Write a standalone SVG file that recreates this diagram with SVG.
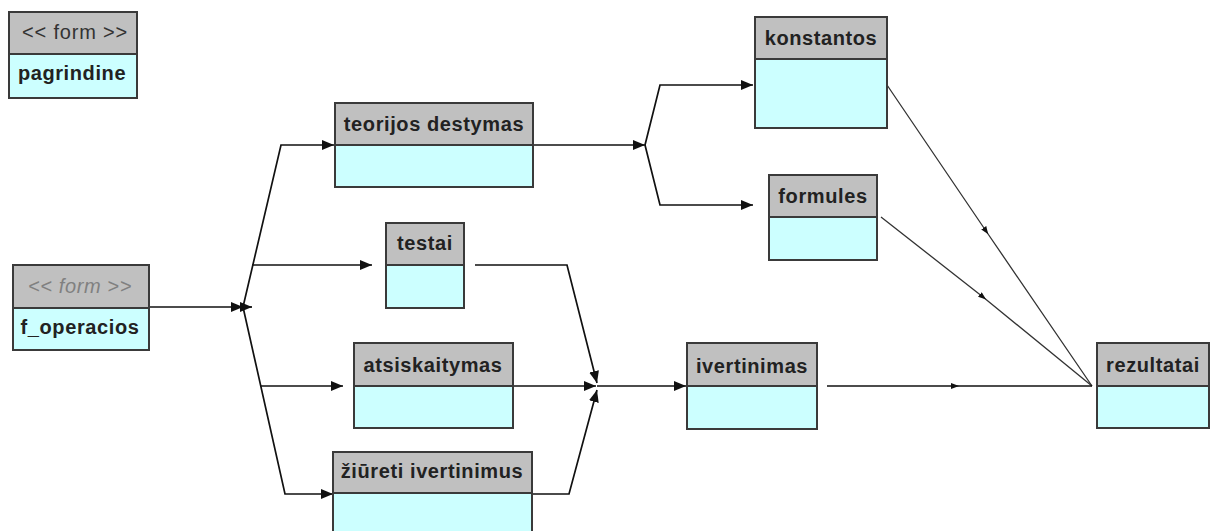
<svg xmlns="http://www.w3.org/2000/svg" width="1216" height="531" viewBox="0 0 1216 531">
  <style>
    .hdr { fill: #c0c0c0; stroke: #3a3a3a; stroke-width: 2; }
    .body { fill: #ccffff; stroke: #3a3a3a; stroke-width: 2; }
    .lbl { font-family: "Liberation Sans", Arial, sans-serif; font-size: 20px; font-weight: bold; letter-spacing: 0.6px; fill: #222; text-anchor: middle; }
    .stereo { font-family: "Liberation Sans", Arial, sans-serif; font-size: 20px; letter-spacing: 0.8px; fill: #333; text-anchor: middle; }
    .stereo-i { font-family: "Liberation Sans", Arial, sans-serif; font-size: 20px; letter-spacing: 0.6px; font-style: italic; fill: #808080; text-anchor: middle; }
    .edge { fill: none; stroke: #111; stroke-width: 1.7; }
    .thin { fill: none; stroke: #333; stroke-width: 1.3; }
  </style>
  <defs>
    <marker id="arrow" markerUnits="userSpaceOnUse" markerWidth="12" markerHeight="10" refX="12" refY="5" orient="auto">
      <path d="M0,0 L12,5 L0,10 Z" fill="#111"/>
    </marker>
    <marker id="tick" markerUnits="userSpaceOnUse" markerWidth="8" markerHeight="6" refX="4" refY="3" orient="auto">
      <path d="M0,0 L8,3 L0,6 Z" fill="#111"/>
    </marker>
  </defs>

  <rect width="1216" height="531" fill="#ffffff"/>

  <!-- connectors -->
  <g id="connectors">
    <!-- f_operacios into the fork -->
    <path class="edge" d="M149,307 L243,307" marker-end="url(#arrow)"/>
    <path class="edge" d="M243,307 L252,307" marker-end="url(#arrow)"/>
    <!-- fork branches -->
    <path class="edge" d="M243,307 L281,145 L334,145" marker-end="url(#arrow)"/>
    <path class="edge" d="M243,307 L285,494 L333,494" marker-end="url(#arrow)"/>
    <path class="edge" d="M252,265 L372,265" marker-end="url(#arrow)"/>
    <path class="edge" d="M261,386 L343,386" marker-end="url(#arrow)"/>
    <!-- teorijos destymas to konstantos / formules -->
    <path class="edge" d="M523,145 L645,145" marker-end="url(#arrow)"/>
    <path class="edge" d="M645,145 L660,85 L753,85" marker-end="url(#arrow)"/>
    <path class="edge" d="M645,145 L660,205 L753,205" marker-end="url(#arrow)"/>
    <!-- into ivertinimas -->
    <path class="edge" d="M475,265 L567,265 L597,383" marker-end="url(#arrow)"/>
    <path class="edge" d="M505,386 L596,386" marker-end="url(#arrow)"/>
    <path class="edge" d="M523,494 L569,494 L597,390" marker-end="url(#arrow)"/>
    <path class="edge" d="M597,386 L686,386" marker-end="url(#arrow)"/>
    <!-- into rezultatai -->
    <path class="thin" d="M887,85 L986,231 L1092,386" marker-mid="url(#tick)"/>
    <path class="thin" d="M881,217 L983,297 L1092,386" marker-mid="url(#tick)"/>
    <path class="edge" d="M827,386 L955,386 L1092,386" marker-mid="url(#tick)"/>
  </g>

  <!-- nodes -->
  <g id="pagrindine">
    <rect class="hdr" x="9" y="12" width="128" height="42"/>
    <rect class="body" x="9" y="54" width="128" height="44"/>
    <text class="stereo" x="75" y="39">&lt;&lt; form &gt;&gt;</text>
    <text class="lbl" x="72" y="80">pagrindine</text>
  </g>

  <g id="f_operacios">
    <rect class="hdr" x="13" y="265" width="136" height="43"/>
    <rect class="body" x="13" y="308" width="136" height="42"/>
    <text class="stereo-i" x="80" y="293">&lt;&lt; form &gt;&gt;</text>
    <text class="lbl" x="80" y="334">f_operacios</text>
  </g>

  <g id="teorijos-destymas">
    <rect class="hdr" x="335" y="103" width="198" height="42"/>
    <rect class="body" x="335" y="145" width="198" height="42"/>
    <text class="lbl" x="434" y="131">teorijos destymas</text>
  </g>

  <g id="konstantos">
    <rect class="hdr" x="755" y="17" width="132" height="42"/>
    <rect class="body" x="755" y="59" width="132" height="69"/>
    <text class="lbl" x="821" y="45">konstantos</text>
  </g>

  <g id="formules">
    <rect class="hdr" x="769" y="175" width="108" height="42"/>
    <rect class="body" x="769" y="217" width="108" height="43"/>
    <text class="lbl" x="823" y="203">formules</text>
  </g>

  <g id="testai">
    <rect class="hdr" x="386" y="223" width="78" height="42"/>
    <rect class="body" x="386" y="265" width="78" height="43"/>
    <text class="lbl" x="425" y="250">testai</text>
  </g>

  <g id="atsiskaitymas">
    <rect class="hdr" x="354" y="343" width="159" height="43"/>
    <rect class="body" x="354" y="386" width="159" height="42"/>
    <text class="lbl" x="433" y="372">atsiskaitymas</text>
  </g>

  <g id="ziureti-ivertinimus">
    <rect class="hdr" x="333" y="452" width="199" height="41"/>
    <rect class="body" x="333" y="493" width="199" height="60"/>
    <text class="lbl" x="432" y="478">žiūreti ivertinimus</text>
  </g>

  <g id="ivertinimas">
    <rect class="hdr" x="687" y="343" width="130" height="43"/>
    <rect class="body" x="687" y="386" width="130" height="43"/>
    <text class="lbl" x="752" y="373">ivertinimas</text>
  </g>

  <g id="rezultatai">
    <rect class="hdr" x="1097" y="343" width="112" height="43"/>
    <rect class="body" x="1097" y="386" width="112" height="42"/>
    <text class="lbl" x="1153" y="372">rezultatai</text>
  </g>
</svg>
